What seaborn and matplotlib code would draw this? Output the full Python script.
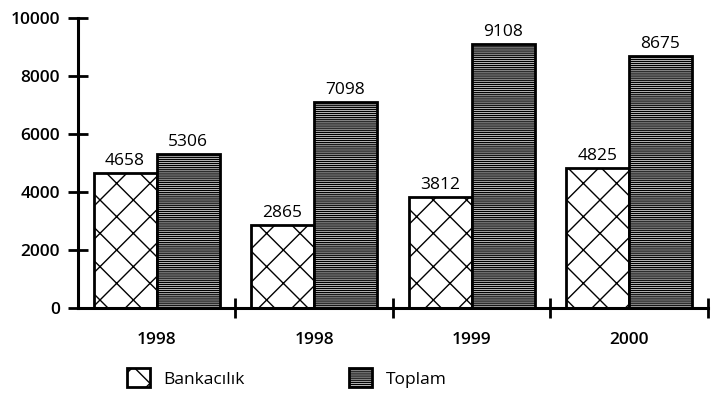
import pandas as pd
import seaborn as sns
import matplotlib.pyplot as plt
from matplotlib.patches import Patch

yillar = ['1998', '1998', '1999', '2000']
gruplar = ['g1', 'g2', 'g3', 'g4']
bankacilik = [4658, 2865, 3812, 4825]
toplam = [5306, 7098, 9108, 8675]

df = pd.DataFrame({
    'grup': gruplar * 2,
    'deger': bankacilik + toplam,
    'seri': ['Bankacılık'] * 4 + ['Toplam'] * 4,
})

sns.set_style('white')
plt.rcParams['font.family'] = ['Open Sans', 'DejaVu Sans']
plt.rcParams['hatch.linewidth'] = 1.0
plt.rcParams['text.color'] = 'black'
plt.rcParams['xtick.color'] = 'black'
plt.rcParams['ytick.color'] = 'black'

fig = plt.figure(figsize=(7.2, 4.2), dpi=100)
ax = fig.add_axes([0.108, 0.267, 0.875, 0.69])

sns.barplot(data=df, x='grup', y='deger', hue='seri', order=gruplar,
            palette=['white', 'white'], width=0.8, edgecolor='black',
            linewidth=2, legend=False, ax=ax, zorder=2)

desenler = ['x', '--------']
for i, cont in enumerate(ax.containers):
    for p in cont:
        p.set_hatch(desenler[i])
    ax.bar_label(cont, fmt='%d', padding=3, fontsize=12.5, color='black')

ax.set_xlim(-0.5, 3.5)
ax.set_ylim(0, 10000)
ax.set_yticks(range(0, 10001, 2000))
ax.set_xticks([0, 1, 2, 3])
ax.set_xticklabels(yillar)
ax.set_xticks([0.5, 1.5, 2.5, 3.5], minor=True)
ax.tick_params(axis='x', which='major', bottom=False, pad=14, labelsize=12.5, labelcolor='black')
ax.tick_params(axis='x', which='minor', bottom=True, length=14, width=2, direction='inout')
ax.tick_params(axis='y', left=True, length=14, width=2, direction='inout', labelsize=12.5,
               pad=6, labelcolor='black')
for lab in ax.get_yticklabels() + ax.get_xticklabels():
    lab.set_fontweight('semibold')
ax.set_xlabel('')
ax.set_ylabel('')
for s in ['top', 'right']:
    ax.spines[s].set_visible(False)
for s in ['left', 'bottom']:
    ax.spines[s].set_linewidth(2.2)
    ax.spines[s].set_color('black')

h1 = Patch(facecolor='white', edgecolor='black', hatch='x', linewidth=2, label='Bankacılık')
h2 = Patch(facecolor='white', edgecolor='black', hatch='--------', linewidth=2, label='Toplam')
fig.legend(handles=[h1, h2], loc='center left', bbox_to_anchor=(0.155, 0.1), ncol=2,
           frameon=False, fontsize=12.5, handlelength=1.3, handleheight=1.3,
           columnspacing=6, handletextpad=0.8, labelcolor='black')

fig.savefig('out.png', dpi=100)
